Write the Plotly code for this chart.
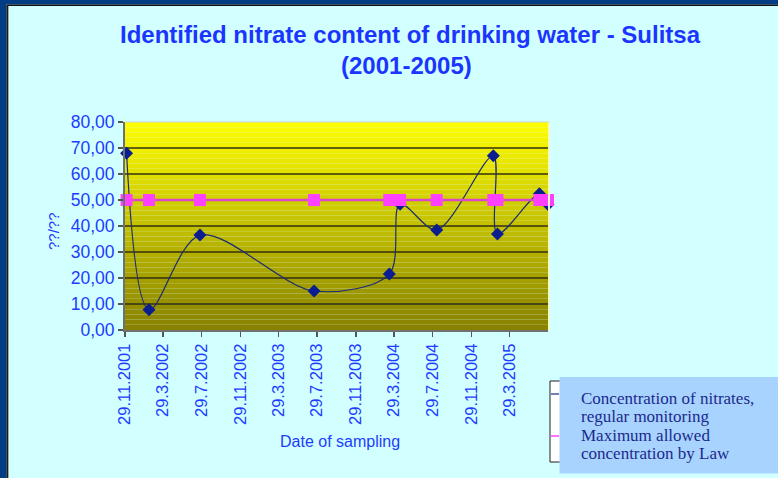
import plotly.graph_objects as go

# ---------------- data ----------------
sample_dates = ['2001-12-04', '2002-02-13', '2002-07-24', '2003-07-20', '2004-03-14',
                '2004-04-17', '2004-08-11', '2005-02-06', '2005-02-19', '2005-07-02',
                '2005-07-29']
nitrates = [68.0, 7.8, 36.5, 15.0, 21.5, 48.4, 38.5, 67.0, 36.9, 52.4, 48.3]
max_allowed = [50, 50, 50, 50, 50, 50, 50, 50, 50, 50, 50]

tick_dates = ['2001-11-29', '2002-03-29', '2002-07-29', '2002-11-29', '2003-03-29',
              '2003-07-29', '2003-11-29', '2004-03-29', '2004-07-29', '2004-11-29',
              '2005-03-29']
tick_labels = ['29.11.2001', '29.3.2002', '29.7.2002', '29.11.2002', '29.3.2003',
               '29.7.2003', '29.11.2003', '29.3.2004', '29.7.2004', '29.11.2004',
               '29.3.2005']
y_ticks = [0, 10, 20, 30, 40, 50, 60, 70, 80]
y_labels = ['0,00', '10,00', '20,00', '30,00', '40,00', '50,00', '60,00', '70,00', '80,00']

series_names = ['Concentration of nitrates, regular monitoring',
                'Maximum allowed concentration by Law']
legend_lines = ['Concentration of nitrates,', 'regular monitoring',
                'Maximum allowed', 'concentration by Law']
title_lines = ['Identified nitrate content of drinking water - Sulitsa', '(2001-2005)']
x_title = 'Date of sampling'
y_title = '??/??'

# ---------------- layout geometry ----------------
W, H = 778, 478
L, R, T, B = 125, 548, 122, 330


def px(p):
    return (p - L) / (R - L)


def py(p):
    return (B - p) / (B - T)


SANS = 'Liberation Sans, Arial, sans-serif'
SERIF = 'Liberation Serif, Times New Roman, serif'
BLUE = '#1E3CFF'

fig = go.Figure()

fig.add_trace(go.Scatter(
    x=sample_dates, y=nitrates, name=series_names[0], mode='lines+markers',
    line=dict(color='#1B2A7A', width=1.2, shape='spline', smoothing=0.9),
    marker=dict(symbol='diamond', size=10, color='#0B1E8F', line=dict(width=0)),
    cliponaxis=False, showlegend=False))

fig.add_trace(go.Scatter(
    x=sample_dates, y=max_allowed, name=series_names[1], mode='lines+markers',
    line=dict(color='#D848C8', width=2.5),
    marker=dict(symbol='square', size=12, color='#FF40FF', line=dict(width=0)),
    cliponaxis=False, showlegend=False))

shapes = []
# gradient background of the plot area
nb = 40
top_c = (255, 255, 0)
bot_c = (136, 128, 0)
for i in range(nb):
    f = (i + 0.5) / nb
    c = tuple(int(round(bot_c[k] + (top_c[k] - bot_c[k]) * f)) for k in range(3))
    shapes.append(dict(type='rect', xref='x domain', yref='y', x0=0, x1=1,
                       y0=80 * i / nb, y1=80 * (i + 1) / nb, layer='below',
                       fillcolor='rgb(%d,%d,%d)' % c, line=dict(width=0)))
# grid lines
for v in y_ticks[1:-1]:
    shapes.append(dict(type='line', xref='x domain', yref='y', x0=0, x1=1, y0=v, y1=v,
                       layer='below', line=dict(color='#303010', width=1.4)))
# plot area light right/top edges
shapes.append(dict(type='line', xref='paper', yref='paper', x0=px(549), x1=px(549),
                   y0=0, y1=1, line=dict(color='#F2F8C8', width=2)))
shapes.append(dict(type='line', xref='paper', yref='paper', x0=0, x1=px(549),
                   y0=py(122), y1=py(122), line=dict(color='#C8D8C8', width=1)))

# outer frame (left and top)
shapes.append(dict(type='rect', xref='paper', yref='paper', x0=px(0), x1=px(6.5),
                   y0=py(H), y1=py(0), fillcolor='#023C82', line=dict(width=0)))
shapes.append(dict(type='rect', xref='paper', yref='paper', x0=px(0), x1=px(W),
                   y0=py(4.5), y1=py(0), fillcolor='#023C82', line=dict(width=0)))
shapes.append(dict(type='line', xref='paper', yref='paper', x0=px(7.2), x1=px(7.2),
                   y0=py(H), y1=py(5), line=dict(color='#101010', width=1.5)))
shapes.append(dict(type='line', xref='paper', yref='paper', x0=px(7.2), x1=px(W),
                   y0=py(5.3), y1=py(5.3), line=dict(color='#101010', width=1.5)))
shapes.append(dict(type='line', xref='paper', yref='paper', x0=px(8.5), x1=px(8.5),
                   y0=py(H), y1=py(6), line=dict(color='#A0A8A8', width=1)))

# legend boxes
shapes.append(dict(type='rect', xref='paper', yref='paper', x0=px(550), x1=px(580),
                   y0=py(462), y1=py(381), fillcolor='white',
                   line=dict(color='#202020', width=1)))
shapes.append(dict(type='line', xref='paper', yref='paper', x0=px(551), x1=px(559),
                   y0=py(394), y1=py(394), line=dict(color='#1B2A7A', width=1.2)))
shapes.append(dict(type='line', xref='paper', yref='paper', x0=px(551), x1=px(559),
                   y0=py(436), y1=py(436), line=dict(color='#FF40FF', width=1.5)))
shapes.append(dict(type='rect', xref='paper', yref='paper', x0=px(559.5), x1=px(W),
                   y0=py(473.5), y1=py(377), fillcolor='#A9D3FF', line=dict(width=0)))

annotations = []
annotations.append(dict(xref='paper', yref='paper', x=px(410), y=py(35),
                        text='<b>%s</b>' % title_lines[0], showarrow=False,
                        xanchor='center', yanchor='middle',
                        font=dict(family=SANS, size=24, color='#1B35FF')))
annotations.append(dict(xref='paper', yref='paper', x=px(406), y=py(65),
                        text='<b>%s</b>' % title_lines[1], showarrow=False,
                        xanchor='center', yanchor='middle',
                        font=dict(family=SANS, size=24, color='#1B35FF')))
annotations.append(dict(xref='paper', yref='paper', x=px(340), y=py(441),
                        text=x_title, showarrow=False,
                        xanchor='center', yanchor='middle',
                        font=dict(family=SANS, size=16, color=BLUE)))
annotations.append(dict(xref='paper', yref='paper', x=px(53), y=py(231),
                        text=y_title, showarrow=False, textangle=-90,
                        xanchor='center', yanchor='middle',
                        font=dict(family=SANS, size=15, color=BLUE)))
for txt, yc in zip(legend_lines, [398, 416.5, 435, 453.5]):
    annotations.append(dict(xref='paper', yref='paper', x=px(579), y=py(yc),
                            text=txt, showarrow=False, xanchor='left', yanchor='middle',
                            font=dict(family=SERIF, size=17, color='#1A2A8C')))

fig.update_layout(
    width=W, height=H,
    margin=dict(l=L, r=W - R, t=T, b=H - B, pad=0),
    paper_bgcolor='#D2FFFF', plot_bgcolor='rgba(0,0,0,0)',
    showlegend=False, hovermode=False,
    shapes=shapes, annotations=annotations,
    xaxis=dict(type='date', range=['2001-11-29', '2005-07-29'],
               tickmode='array', tickvals=tick_dates, ticktext=tick_labels,
               tickangle=-90, tickfont=dict(family=SANS, size=16.5, color=BLUE),
               ticks='outside', ticklen=5, tickwidth=1.5, tickcolor='#555555',
               showline=True, linecolor='#707070', linewidth=2,
               showgrid=False, zeroline=False, fixedrange=True),
    yaxis=dict(range=[0, 80], tickmode='array', tickvals=y_ticks, ticktext=y_labels,
               tickfont=dict(family=SANS, size=17.5, color=BLUE),
               ticks='outside', ticklen=5, tickwidth=1.5, tickcolor='#555555',
               showline=True, linecolor='#707070', linewidth=2,
               showgrid=False, zeroline=False, fixedrange=True),
)

fig.write_html('out.html',
               config={'displayModeBar': False, 'staticPlot': True},
               post_script="document.body.style.margin='0';"
                           "document.body.style.overflow='hidden';")
